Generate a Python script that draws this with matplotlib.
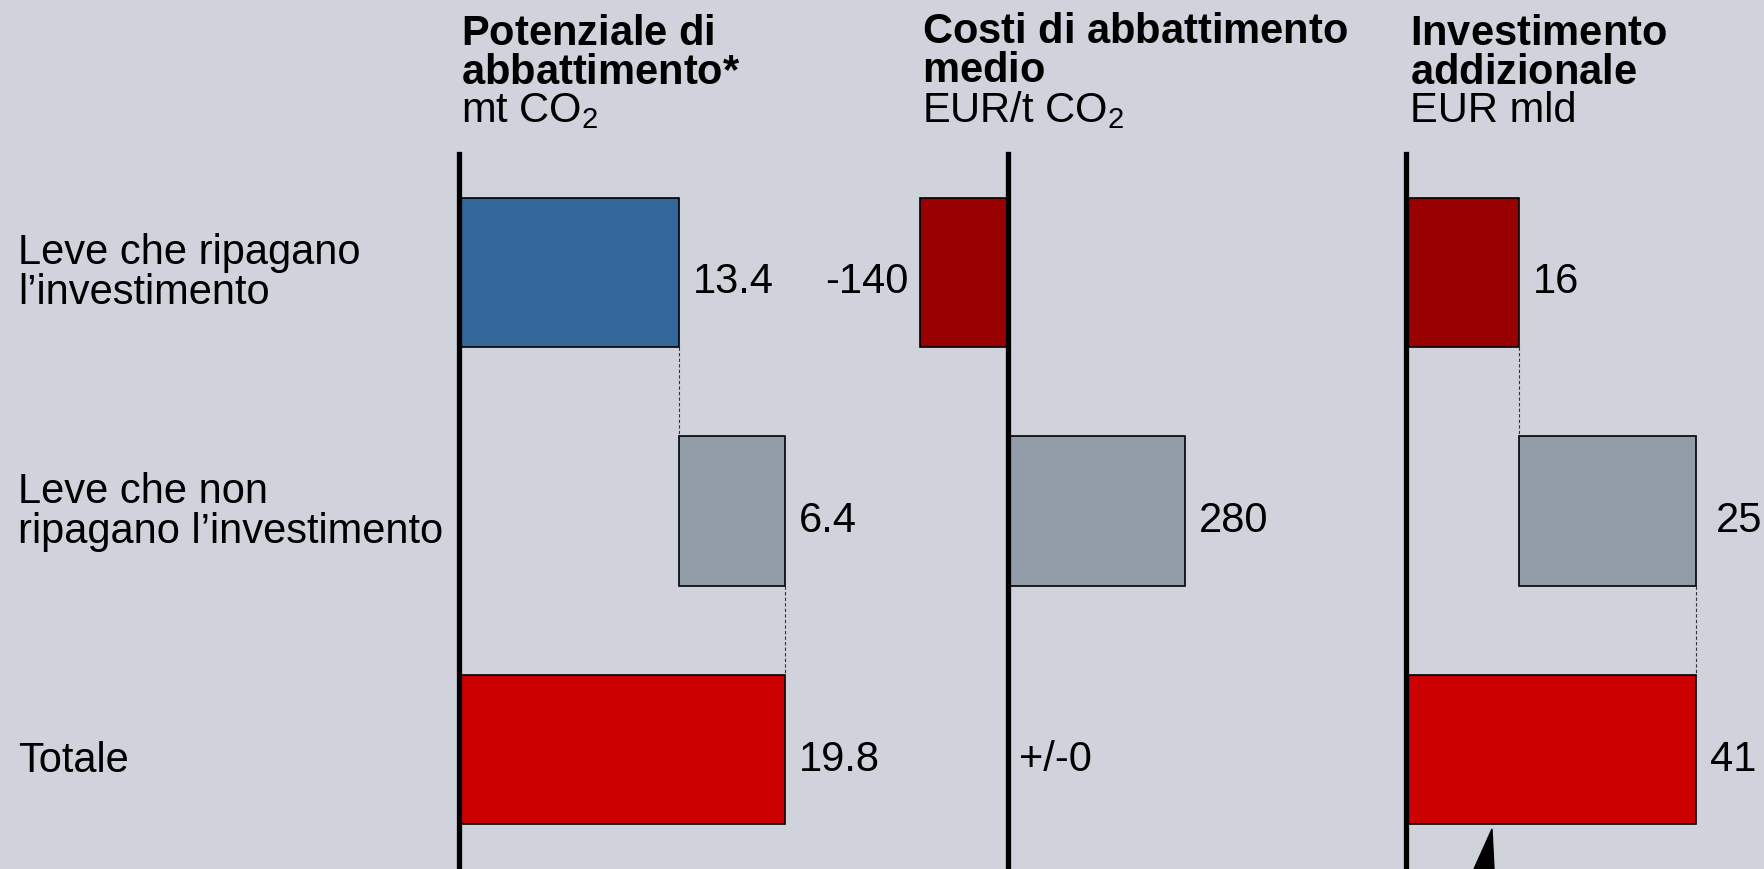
import numpy as np
import matplotlib.pyplot as plt
from matplotlib.patches import Polygon

plt.rcParams['font.family'] = ['Liberation Sans', 'DejaVu Sans']
plt.rcParams['mathtext.fontset'] = 'custom'
plt.rcParams['mathtext.rm'] = 'Liberation Sans'
plt.rcParams['mathtext.it'] = 'Liberation Sans'
plt.rcParams['mathtext.bf'] = 'Liberation Sans:bold'

# ------------------- Dati -------------------
categorie = ["Leve che ripagano\nl\u2019investimento",
             "Leve che non\nripagano l\u2019investimento",
             "Totale"]
potenziale = [13.4, 6.4, 19.8]
costi = [-140, 280, 0]
investimento = [16, 25, 41]
etich_potenziale = ["13.4", "6.4", "19.8"]
etich_costi = ["-140", "280", "+/-0"]
etich_investimento = ["16", "25", "41"]
titoli = ["Potenziale di\nabbattimento*", "Costi di abbattimento\nmedio", "Investimento\naddizionale"]
unita = ["mt CO$_2$", "EUR/t CO$_2$", "EUR mld"]

# colori
bg = "#D0D3DB"
blu = "#336699"
rosso_scuro = "#990000"
grigio = "#939DA9"
rosso = "#CC0000"

W, H = 1764, 870
FS = 30


def rect(x0, y0, x1, y1):
    # pixel (dall'alto) -> coordinate figura
    return [x0 / W, 1 - y1 / H, (x1 - x0) / W, (y1 - y0) / H]


def fy(ypx):
    return 1 - ypx / H


fig = plt.figure(figsize=(W / 100, H / 100), dpi=100, facecolor=bg)

y = np.arange(3)
bar_h = 0.625
ylim = (2.5, -0.495)
top_px = 155


def pannello(x_axis, x0, x1, scala):
    ax = fig.add_axes(rect(x0, top_px, x1, H))
    ax.set_xlim(-(x_axis - x0) / scala, (x1 - x_axis) / scala)
    ax.set_ylim(*ylim)
    ax.axis("off")
    ax.patch.set_alpha(0)
    ax.axvline(0, color="black", lw=3.8, zorder=5, clip_on=False)
    return ax


def etichetta(ax, x, yy, testo, dx=10, ha="left"):
    # baseline circa 20 px sotto il centro della barra
    ax.annotate(testo, (x, yy), xytext=(dx, -14.4), textcoords="offset points",
                va="baseline", ha=ha, fontsize=FS)


def connettore(ax, x, y_a, y_b):
    ax.plot([x, x], [y_a + bar_h / 2, y_b - bar_h / 2], color="#333333",
            lw=0.8, ls=(0, (3, 2)), zorder=1)


def grassetto(riga):
    # riga in grassetto via mathtext; l'asterisco a parte per evitare spazi
    riga = riga.replace(" ", "\\ ")
    if riga.endswith("*"):
        return "$\\mathbf{" + riga[:-1] + "}\\mathbf{*}$"
    return "$\\mathbf{" + riga + "}$"


# ------------------- Pannello 1 -------------------
ax1 = pannello(459, 459, 900, 16.45)
left1 = [0, potenziale[0], 0]
ax1.barh(y, potenziale, left=left1, height=bar_h, color=[blu, grigio, rosso],
         edgecolor="black", lw=1.2, zorder=3)
for i in range(3):
    etichetta(ax1, left1[i] + potenziale[i], y[i], etich_potenziale[i])
connettore(ax1, potenziale[0], 0, 1)
connettore(ax1, potenziale[2], 1, 2)

# ------------------- Pannello 2 -------------------
ax2 = pannello(1008, 800, 1250, 0.632)
ax2.barh(y[:2], costi[:2], height=bar_h, color=[rosso_scuro, grigio],
         edgecolor="black", lw=1.2, zorder=3)
etichetta(ax2, costi[0], y[0], etich_costi[0], dx=-8, ha="right")
etichetta(ax2, costi[1], y[1], etich_costi[1])
etichetta(ax2, 0, y[2], etich_costi[2], dx=8)

# ------------------- Pannello 3 -------------------
ax3 = pannello(1406, 1406, W, 7.08)
left3 = [0, investimento[0], 0]
ax3.barh(y, investimento, left=left3, height=bar_h, color=[rosso_scuro, grigio, rosso],
         edgecolor="black", lw=1.2, zorder=3)
for i, dx in zip(range(3), [10, 14, 10]):
    etichetta(ax3, left3[i] + investimento[i], y[i], etich_investimento[i], dx=dx)
connettore(ax3, investimento[0], 0, 1)
connettore(ax3, investimento[2], 1, 2)

# ------------------- Testi -------------------
# titolo in grassetto + unita' in un solo blocco di testo
for xp, t, u in zip([461, 922, 1410], titoli, unita):
    blocco = "\n".join([grassetto(r) for r in t.split("\n")] + [u])
    fig.text(xp / W, fy(122.5), blocco, fontsize=FS, va="baseline", ha="left",
             linespacing=0.965)

for c, yb in zip(categorie, [304, 543, 772]):
    fig.text(18 / W, fy(yb), c, fontsize=FS, va="baseline", ha="left",
             linespacing=1.0)

# freccia in basso
fig.patches.append(Polygon([[1474 / W, 0], [1494 / W, 0], [1492 / W, fy(830)]],
                           closed=True, color="black", transform=fig.transFigure))

fig.savefig("out.png", dpi=100, facecolor=bg)
